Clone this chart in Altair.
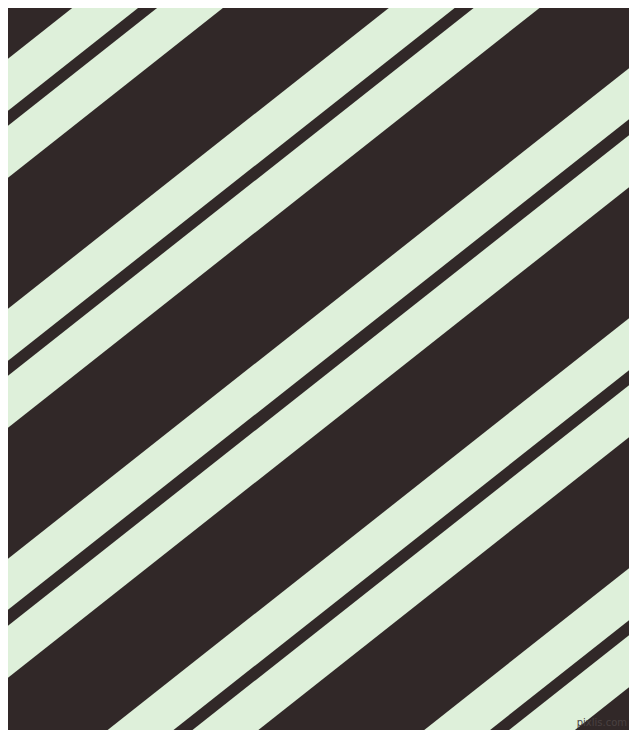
import altair as alt
import pandas as pd

DARK = "#312828"
LIGHT = "#DEF0DA"

# stripe edges (y in pixels of the reference image) at the left edge x=0 and the right edge x=637
edge_x = [0, 637]
stripe_top_left = [65, 132, 315, 382, 565, 632, 815, 882, 1065, 1132]
stripe_bottom_left = [117, 184, 367, 434, 616, 684, 867, 934, 1117, 1184]
stripe_top_right = [-438, -371, -188, -121, 62, 129, 312, 379, 562, 629]
stripe_bottom_right = [-386, -319, -136, -69, 113, 181, 364, 431, 614, 681]

label_text = ["pixlis.com"]
label_x = [627]
label_y = [723]

rows = []
for i in range(len(stripe_top_left)):
    rows.append({"stripe": i, "x": edge_x[0], "y": stripe_top_left[i], "y2": stripe_bottom_left[i]})
    rows.append({"stripe": i, "x": edge_x[1], "y": stripe_top_right[i], "y2": stripe_bottom_right[i]})
df = pd.DataFrame(rows)
lab = pd.DataFrame({"text": label_text, "x": label_x, "y": label_y})

xs = alt.Scale(domain=[8, 629], nice=False, zero=False)
ys = alt.Scale(domain=[8, 730], nice=False, zero=False, reverse=True)

stripes = alt.Chart(df).mark_area(color=LIGHT, clip=True, interpolate="linear").encode(
    x=alt.X("x:Q", scale=xs, axis=None),
    y=alt.Y("y:Q", scale=ys, axis=None),
    y2=alt.Y2("y2:Q"),
    detail="stripe:N",
)

mark = alt.Chart(lab).mark_text(fontSize=10, color="#4a4141", font="DejaVu Sans", align="right").encode(
    x=alt.X("x:Q", scale=xs, axis=None),
    y=alt.Y("y:Q", scale=ys, axis=None),
    text="text:N",
)

chart = alt.layer(stripes, mark).properties(
    width=621, height=722, background=DARK,
    padding={"left": 0, "top": 0, "right": 0, "bottom": 0},
    autosize=alt.AutoSizeParams(type="none"),
).configure_view(stroke=None, fill=DARK)

chart.save("out.html", embed_options={"renderer": "svg", "actions": False})
